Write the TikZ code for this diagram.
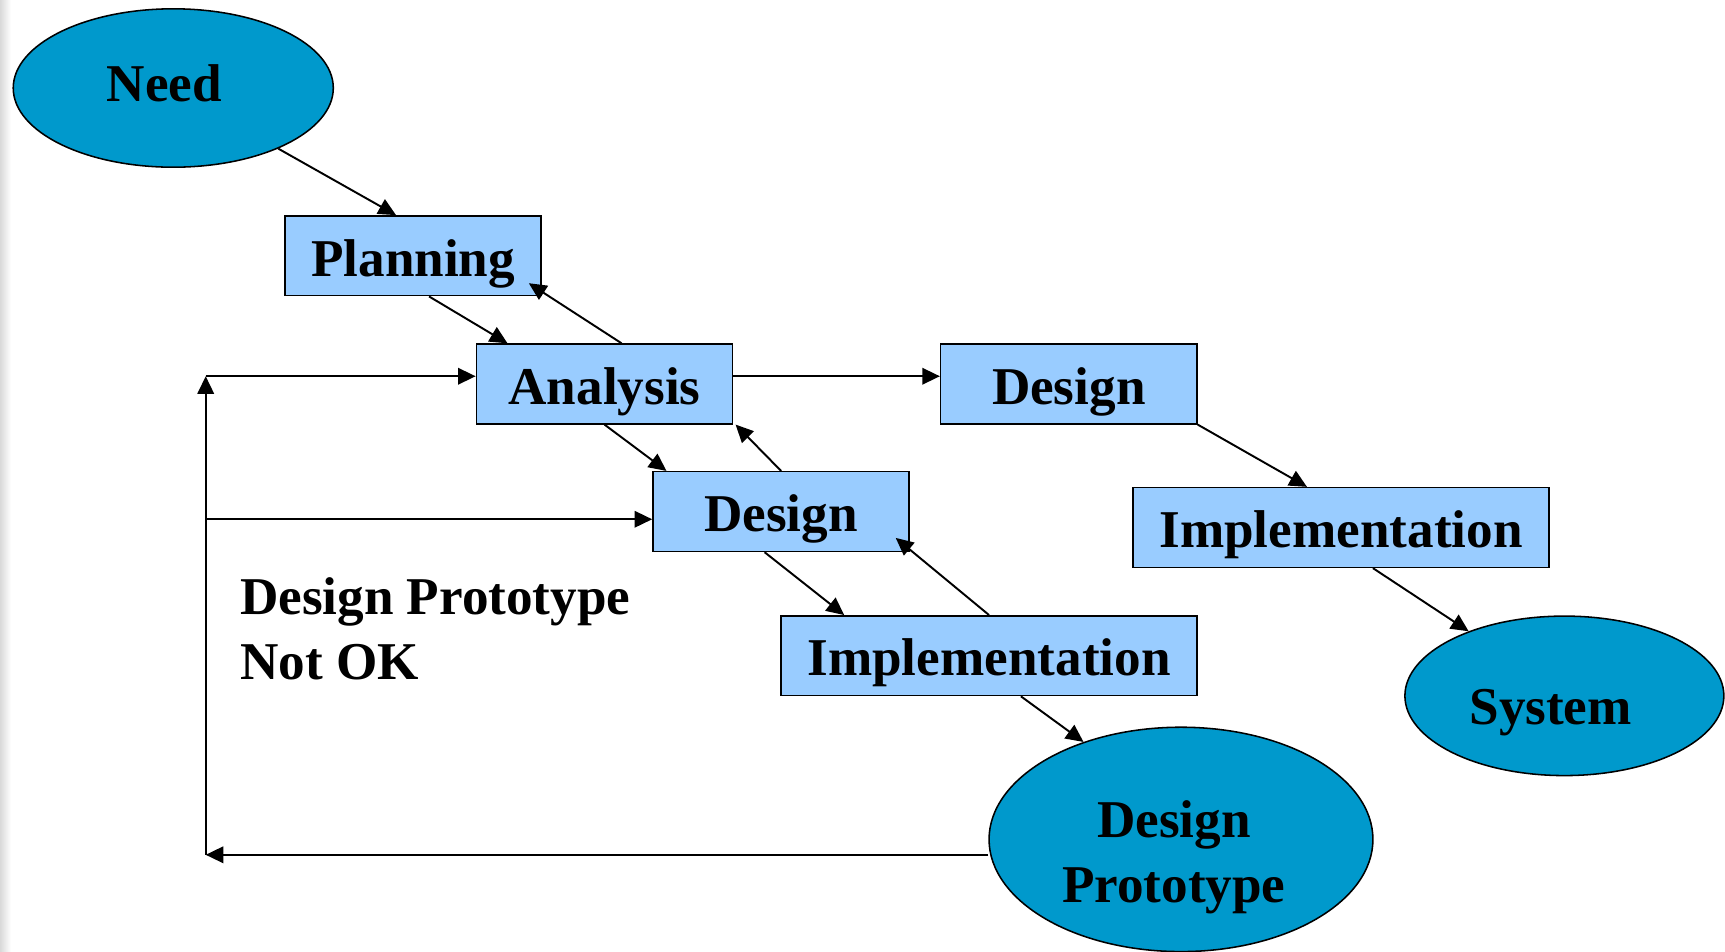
\documentclass[tikz,border=0pt]{standalone}
\usepackage{fontspec}
\setmainfont{Liberation Serif}
\usetikzlibrary{shapes.geometric}
\usetikzlibrary{arrows.meta}

\definecolor{ovalblue}{HTML}{0099CC}
\definecolor{boxblue}{HTML}{99CCFF}

\begin{document}
\begin{tikzpicture}[x=0.02cm,y=-0.02cm,
        every node/.style={font=\fontsize{27.5}{33.5}\selectfont\bfseries},
        stagebox/.style={draw,fill=boxblue,line width=0.8pt,inner sep=0pt,minimum width=4.66cm,minimum height=1.45cm,text height=21pt,text depth=0pt},
        widebox/.style={stagebox,minimum width=7.56cm},
        stageoval/.style={ellipse,draw,fill=ovalblue,line width=0.8pt,inner sep=0pt,align=center,text depth=0pt},
        flow/.style={-{Triangle[length=0.32cm,width=0.3cm]},line width=1pt}]
        \useasboundingbox (0,0) rectangle (1568,865);

        % screen edge
        \shade[left color=black!15,right color=white] (0,0) rectangle (10,865);

        % the ovals
        \node[stageoval,minimum width=5.82cm,minimum height=2.88cm,text height=13.6pt] (Need) at (157.5,80) {Need\hspace*{0.32cm}};
        \node[stageoval,minimum width=5.8cm,minimum height=2.9cm,text height=30pt] (System) at (1422,632.5) {System\hspace*{0.5cm}};
        \node[stageoval,minimum width=6.98cm,minimum height=4.08cm,text height=64.8pt] (Proto) at (1073.5,763) {Design\hspace*{0.26cm}\\Prototype\hspace*{0.26cm}};

        % the stages
        \node[stagebox] (Planning) at (375.5,232.5) {Planning};
        \node[stagebox] (Analysis) at (549.5,349) {Analysis};
        \node[stagebox] (DesignA) at (710,465) {Design};
        \node[stagebox] (DesignB) at (971.5,349) {Design};
        \node[widebox] (ImplA) at (899,596) {Implementation};
        \node[widebox] (ImplB) at (1219,479.5) {Implementation};

        \node[anchor=north west,align=left] (NotOK) at (212,519) {Design Prototype\\Not OK};

        % prototype path
        \draw[flow] (Need.-30) -- ([xshift=-0.31cm]Planning.north);
        \draw[flow] ([xshift=0.29cm]Planning.south) -- ([xshift=0.58cm]Analysis.north west);
        \draw[flow] ([xshift=0.31cm]Analysis.north) -- ([xshift=-0.24cm,yshift=0.24cm]Planning.south east);
        \draw[flow] (Analysis.south) -- ([xshift=0.26cm]DesignA.north west);
        \draw[flow] (DesignA.north) -- ([xshift=0.04cm]Analysis.south east);
        \draw[flow] ([xshift=-0.3cm]DesignA.south) -- ([xshift=1.16cm]ImplA.north west);
        \draw[flow] (ImplA.north) -- ([xshift=-0.26cm,yshift=0.26cm]DesignA.south east);
        \draw[flow] ([xshift=0.58cm]ImplA.south) -- (Proto.135);

        % system path
        \draw[flow] ([yshift=0.14cm]Analysis.east) -- ([yshift=0.14cm]DesignB.west);
        \draw[flow] (DesignB.south east) -- ([xshift=-0.62cm]ImplB.north);
        \draw[flow] ([xshift=0.58cm]ImplB.south) -- (System.146);

        % feedback loop
        \coordinate (LoopBot) at (187,777);
        \coordinate (LoopTop) at (187,342);
        \coordinate (LoopMid) at (187,472);
        \draw[flow] (Proto.west |- LoopBot) -- (LoopBot);
        \draw[flow] (LoopBot) -- (LoopTop);
        \draw[flow] (LoopTop) -- (LoopTop -| Analysis.west);
        \draw[flow] (LoopMid) -- (LoopMid -| DesignA.west);
\end{tikzpicture}
\end{document}
